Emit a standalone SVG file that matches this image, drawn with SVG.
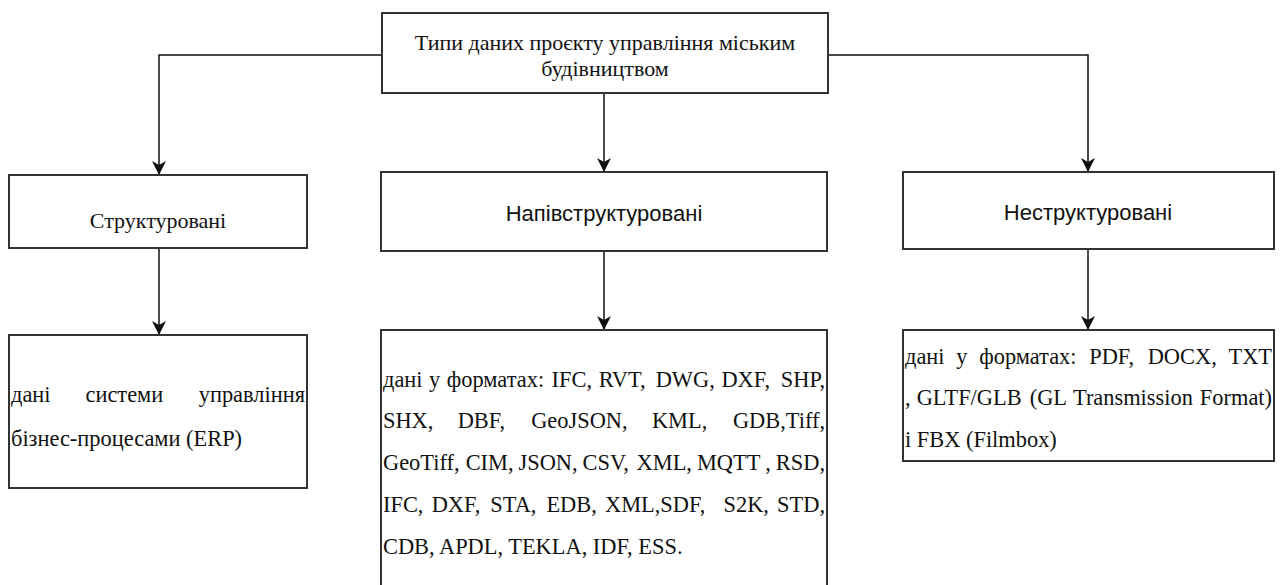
<svg xmlns="http://www.w3.org/2000/svg" width="1283" height="585" viewBox="0 0 1283 585">
  <style>
    .box { fill: #ffffff; stroke: #333333; stroke-width: 2; }
    .edge { fill: none; stroke: #111111; stroke-width: 1.5; }
  </style>
  <defs>
    <marker id="arrow" viewBox="0 0 14 14" refX="14" refY="7" markerWidth="14" markerHeight="14" markerUnits="userSpaceOnUse" orient="auto">
      <path d="M0,0 L14,7 L0,14 L4,7 Z" fill="#111111"/>
    </marker>
  </defs>
  <rect width="1283" height="585" fill="#ffffff"/>

  <g id="connectors">
    <path class="edge" d="M382,55 H159 V175" marker-end="url(#arrow)"/>
    <path class="edge" d="M828,55 H1088 V172" marker-end="url(#arrow)"/>
    <path class="edge" d="M604,93 V172" marker-end="url(#arrow)"/>
    <path class="edge" d="M159,248 V335" marker-end="url(#arrow)"/>
    <path class="edge" d="M604,251 V330" marker-end="url(#arrow)"/>
    <path class="edge" d="M1088,249 V330" marker-end="url(#arrow)"/>
  </g>

  <g id="root" font-family="Liberation Serif, Times New Roman, serif" font-size="22" fill="#111111" text-anchor="middle">
    <rect class="box" x="382" y="13" width="446" height="80"/>
    <text x="605" y="50">Типи даних проєкту управління міським</text>
    <text x="605" y="76">будівництвом</text>
  </g>

  <g id="structured" font-family="Liberation Serif, Times New Roman, serif" font-size="22" fill="#111111" text-anchor="middle">
    <rect class="box" x="9" y="175" width="298" height="73"/>
    <text x="158" y="228">Структуровані</text>
  </g>

  <g id="semistructured" font-family="Liberation Sans, Arial, sans-serif" font-size="22" fill="#111111" text-anchor="middle">
    <rect class="box" x="381" y="172" width="446" height="79"/>
    <text x="604" y="221">Напівструктуровані</text>
  </g>

  <g id="unstructured" font-family="Liberation Sans, Arial, sans-serif" font-size="22" fill="#111111" text-anchor="middle">
    <rect class="box" x="903" y="172" width="371" height="77"/>
    <text x="1088" y="220">Неструктуровані</text>
  </g>

  <g id="structured-data" font-family="Liberation Serif, Times New Roman, serif" font-size="22.4" fill="#111111">
    <rect class="box" x="9" y="335" width="298" height="153"/>
    <text y="402"><tspan x="11">дані</tspan><tspan x="85.5">системи</tspan></text>
    <text x="305" y="402" text-anchor="end">управління</text>
    <text x="11" y="446">бізнес-процесами (ERP)</text>
  </g>

  <g id="semistructured-data" font-family="Liberation Serif, Times New Roman, serif" font-size="22.4" fill="#111111">
    <rect class="box" x="381" y="330" width="446" height="265"/>
    <text y="387"><tspan x="383">дані</tspan><tspan x="429">у</tspan><tspan x="446.8">форматах:</tspan><tspan x="551.6">IFC,</tspan><tspan x="598.7">RVT,</tspan><tspan x="655.7">DWG,</tspan><tspan x="721.4">DXF,</tspan></text>
    <text x="825" y="387" text-anchor="end">SHP,</text>
    <text y="428"><tspan x="383">SHX,</tspan><tspan x="457.7">DBF,</tspan><tspan x="531.2">GeoJSON,</tspan><tspan x="651.9">KML,</tspan></text>
    <text x="825" y="428" text-anchor="end">GDB,Tiff,</text>
    <text y="470"><tspan x="383">GeoTiff,</tspan><tspan x="465.7">CIM,</tspan><tspan x="518.5">JSON,</tspan><tspan x="582.5">CSV,</tspan><tspan x="636.6">XML,</tspan><tspan x="696.9">MQTT</tspan><tspan x="765.3">,</tspan></text>
    <text x="825" y="470" text-anchor="end">RSD,</text>
    <text y="512"><tspan x="383">IFC,</tspan><tspan x="431.7">DXF,</tspan><tspan x="490.3">STA,</tspan><tspan x="546.4">EDB,</tspan><tspan x="605">XML,SDF,</tspan><tspan x="723.5">S2K,</tspan></text>
    <text x="825" y="512" text-anchor="end">STD,</text>
    <text x="383" y="554">CDB, APDL, TEKLA, IDF, ESS.</text>
  </g>

  <g id="unstructured-data" font-family="Liberation Serif, Times New Roman, serif" font-size="22.4" fill="#111111">
    <rect class="box" x="903" y="330" width="371" height="131"/>
    <text y="364"><tspan x="905">дані</tspan><tspan x="956.2">у</tspan><tspan x="979.2">форматах:</tspan><tspan x="1089.2">PDF,</tspan><tspan x="1147.7">DOCX,</tspan></text>
    <text x="1272" y="364" text-anchor="end">TXT</text>
    <text y="405"><tspan x="905">,</tspan><tspan x="916.7">GLTF/GLB</tspan><tspan x="1029.7">(GL</tspan><tspan x="1073">Transmission</tspan></text>
    <text x="1272" y="405" text-anchor="end">Format)</text>
    <text x="905" y="447">і FBX (Filmbox)</text>
  </g>
</svg>
